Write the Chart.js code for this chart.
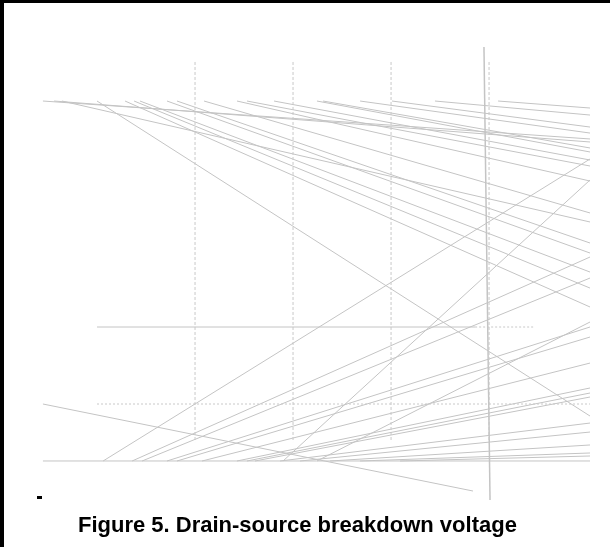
<!DOCTYPE html>
<html>
<head>
<meta charset="utf-8">
<title>Figure 5. Drain-source breakdown voltage</title>
<script src="https://cdn.jsdelivr.net/npm/chart.js@4/dist/chart.umd.min.js"></script>
<style>
  html, body { margin: 0; padding: 0; background: #fff; }
  #fig { position: relative; width: 610px; height: 547px; overflow: hidden; }
  #fig canvas { position: absolute; left: 0; top: 0; }
  .edge-top { position: absolute; left: 0; top: 0; width: 610px; height: 3px; background: #000; }
  .edge-left { position: absolute; left: 0; top: 0; width: 4px; height: 547px; background: #000; }
  .mark { position: absolute; left: 37px; top: 496px; width: 5px; height: 3px; background: #000; }
  .caption {
    position: absolute; left: 78px; top: 514px; line-height: 22px; white-space: nowrap;
    font-family: "Liberation Sans", Arial, sans-serif; font-weight: bold; font-size: 22px; color: #000;
  }
</style>
</head>
<body>
<div id="fig">
  <canvas id="chart" width="610" height="547"></canvas>
  <div class="edge-top"></div>
  <div class="edge-left"></div>
  <div class="mark"></div>
  <div class="caption">Figure 5. Drain-source breakdown voltage</div>
</div>
<script>
// axis ranges: Tj in °C, V(BR)DSS normalised
const X_MIN = -99.5, X_MAX = 211.7;
const Y_MIN = 0.8143, Y_MAX = 1.5247;
const X_RIGHT = 201.5;          // where every trace stops

// traces falling from the top row
const fallY0 = 1.3935;
const fallX0 = [-77.6, -71.9, -67.9, -50.0, -35.7, -31.1, -28.1, -14.3, -9.2, 4.6, 21.4, 26.5, 40.3, 62.2, 65.3, 84.2, 100.5, 122.4, 154.6];
const fallY1 = [1.3442, 1.3403, 1.2364, 0.9844, 1.1260, 1.1506, 1.1714, 1.1961, 1.2091, 1.2481, 1.2896, 1.3091, 1.3169, 1.3273, 1.3325, 1.3519, 1.3597, 1.3753, 1.3844];

// traces rising from the bottom row
const riseY0 = 0.9260;
const riseX0 = [-46.9, -32.1, -27.0, -14.3, -9.2, 3.6, 21.4, 26.5, 30.6, 44.9, 62.2, 43.4, 53.6, 68.9, 84.2, 104.6];
const riseY1 = [1.3182, 1.1909, 1.1636, 1.1000, 1.0870, 1.0532, 1.0208, 1.0143, 1.0091, 1.2909, 1.1065, 0.9753, 0.9636, 0.9468, 0.9364, 0.9325];

// other solid strokes: [x0, y0, x1, y1]
const baseline = [-77.6, 0.9260, X_RIGHT, 0.9260];
const slopeLow = [-77.6, 1.0, 141.8, 0.8870];
const level110 = [-50.0, 1.1, 142.9, 1.1];
const marker = [147.4, 1.4636, 150.5, 0.8753];

// dotted strokes
const level110Tail = [142.9, 1.1, 173.5, 1.1];
const level100 = [-50.0, 1.0, X_RIGHT, 1.0];

// dashed verticals
const gridX = [0, 50, 100, 150];
const gridTop = 1.4442, gridBottom = 0.9506;

const GREY = '#c4c4c4';

function seg(s, opts) {
  return Object.assign({
    data: [{ x: s[0], y: s[1] }, { x: s[2], y: s[3] }],
    showLine: true,
    borderColor: GREY,
    borderWidth: 1,
    pointRadius: 0,
    pointHoverRadius: 0
  }, opts || {});
}

const datasets = [];
gridX.forEach(x => datasets.push(seg([x, gridTop, x, gridBottom], { borderColor: '#c8c8c8', borderDash: [3, 2] })));
datasets.push(seg(level100, { borderColor: '#c8c8c8', borderDash: [2, 2] }));
datasets.push(seg(level110Tail, { borderColor: '#c8c8c8', borderDash: [2, 2] }));
fallX0.forEach((x, i) => datasets.push(seg([x, fallY0, X_RIGHT, fallY1[i]])));
riseX0.forEach((x, i) => datasets.push(seg([x, riseY0, X_RIGHT, riseY1[i]])));
datasets.push(seg(baseline));
datasets.push(seg(slopeLow));
datasets.push(seg(level110));
datasets.push(seg(marker, { borderWidth: 1.5 }));

new Chart(document.getElementById('chart').getContext('2d'), {
  type: 'scatter',
  data: { datasets: datasets },
  options: {
    responsive: false,
    animation: false,
    layout: { padding: 0 },
    plugins: { legend: { display: false }, tooltip: { enabled: false } },
    scales: {
      x: { type: 'linear', min: X_MIN, max: X_MAX, display: false },
      y: { type: 'linear', min: Y_MIN, max: Y_MAX, display: false }
    }
  }
});
</script>
</body>
</html>
